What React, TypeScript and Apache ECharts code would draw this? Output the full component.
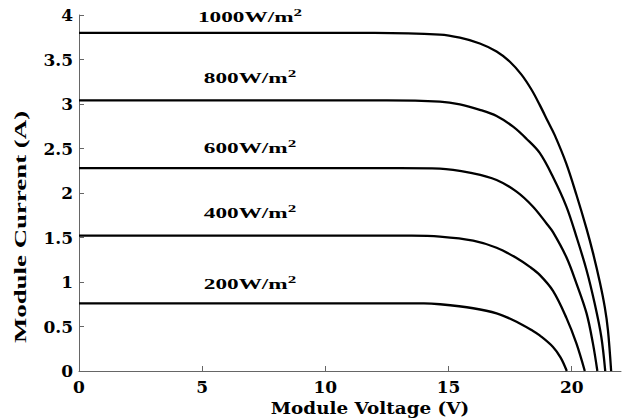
import React, { useEffect, useRef } from 'react';
import * as echarts from 'echarts';

// Module voltage (V) / current (A) for each irradiance level
const v1000 = [0, 12, 14.65, 15.46, 16.27, 16.95, 17.49, 17.96, 18.37, 18.7, 19.04, 19.31, 19.78, 20.19, 20.6, 20.86, 21.14, 21.34, 21.47, 21.6];
const i1000 = [3.8, 3.8, 3.78, 3.745, 3.68, 3.59, 3.475, 3.33, 3.16, 2.99, 2.8, 2.65, 2.33, 1.98, 1.6, 1.33, 1.0, 0.72, 0.46, 0];

const v800 = [0, 12.5, 14.65, 15.46, 16.27, 16.95, 17.62, 18.16, 18.7, 19.24, 19.78, 20.19, 20.6, 20.93, 21.2, 21.36];
const i800 = [3.04, 3.04, 3.026, 2.996, 2.935, 2.865, 2.745, 2.61, 2.45, 2.18, 1.85, 1.51, 1.135, 0.76, 0.385, 0];

const v600 = [0, 13, 14.65, 16.0, 16.95, 17.76, 18.43, 18.97, 19.24, 19.78, 20.19, 20.6, 20.86, 21.04];
const i600 = [2.28, 2.28, 2.275, 2.22, 2.146, 2.015, 1.846, 1.66, 1.56, 1.28, 0.985, 0.65, 0.31, 0];

const v400 = [0, 13.5, 14.65, 16.0, 16.95, 17.76, 18.3, 18.7, 19.24, 19.78, 20.19, 20.53];
const i400 = [1.52, 1.52, 1.51, 1.465, 1.385, 1.27, 1.17, 1.08, 0.9, 0.6, 0.31, 0];

const v200 = [0, 14, 14.65, 16.0, 16.95, 17.76, 18.43, 18.7, 19.24, 19.55, 19.8];
const i200 = [0.76, 0.76, 0.75, 0.705, 0.648, 0.554, 0.45, 0.4, 0.27, 0.15, 0];

const curveLabels = ['1000W/m', '800W/m', '600W/m', '400W/m', '200W/m'];
const xTicks = [0, 5, 10, 15, 20];

const xName = 'Module Voltage (V)';
const yName = 'Module Current (A)';

const zip = (v: number[], c: number[]) => v.map((x, k) => [x, c[k]]);

const curves = [
  zip(v1000, i1000),
  zip(v800, i800),
  zip(v600, i600),
  zip(v400, i400),
  zip(v200, i200),
];

const labelY = [16, 77, 147, 212, 283];

const tickFont = 'DejaVu Serif';
const labelFont = 'Liberation Serif';

export default function App() {
  const ref = useRef<HTMLDivElement>(null);
  useEffect(() => {
    document.body.style.margin = '0';
    const chart = echarts.init(ref.current!, null, { renderer: 'svg' });
    const axisLineStyle = { color: '#666', width: 1 };
    chart.setOption({
      animation: false,
      backgroundColor: '#fff',
      grid: { left: 79, top: 15, right: 4, bottom: 48 },
      xAxis: {
        type: 'value',
        min: 0,
        max: 22,
        interval: 5,
        axisLine: { show: true, lineStyle: axisLineStyle },
        axisTick: { show: true, inside: true, length: 5, lineStyle: axisLineStyle, customValues: xTicks },
        axisLabel: {
          customValues: xTicks,
          margin: 7,
          fontFamily: tickFont,
          fontWeight: 'bold',
          fontSize: 17,
          color: '#000',
        },
        splitLine: { show: false },
      },
      yAxis: {
        type: 'value',
        min: 0,
        max: 4,
        interval: 0.5,
        axisLine: { show: true, lineStyle: axisLineStyle },
        axisTick: { show: true, inside: true, length: 5, lineStyle: axisLineStyle },
        axisLabel: {
          margin: 6,
          fontFamily: tickFont,
          fontWeight: 'bold',
          fontSize: 17,
          color: '#000',
        },
        splitLine: { show: false },
      },
      series: curves.map((d) => ({
        type: 'line',
        data: d,
        showSymbol: false,
        smooth: 0.35,
        lineStyle: { color: '#000', width: 2.3 },
      })),
      graphic: [
        ...curveLabels.map((t, k) => ({
          type: 'text',
          x: 250,
          y: labelY[k],
          scaleX: 1.55,
          style: {
            text: `{a|${t}}{b|2}`,
            align: 'center',
            verticalAlign: 'middle',
            rich: {
              a: {
                fontFamily: labelFont,
                fontWeight: 'bold',
                fontSize: 15,
                lineHeight: 18,
                fill: '#000',
                verticalAlign: 'bottom',
              },
              b: {
                fontFamily: labelFont,
                fontWeight: 'bold',
                fontSize: 11,
                lineHeight: 11,
                fill: '#000',
                verticalAlign: 'top',
              },
            },
          },
        })),
        {
          type: 'text',
          x: 20,
          y: 227,
          rotation: Math.PI / 2,
          scaleX: 1.58,
          style: {
            text: yName,
            font: `bold 17px "${labelFont}"`,
            fill: '#000',
            align: 'center',
            verticalAlign: 'middle',
          },
        },
        {
          type: 'text',
          x: 370,
          y: 408,
          scaleX: 1.08,
          style: {
            text: xName,
            font: `bold 17px "${tickFont}"`,
            fill: '#000',
            align: 'center',
            verticalAlign: 'middle',
          },
        },
      ],
    });
    return () => chart.dispose();
  }, []);
  return <div ref={ref} style={{ position: 'absolute', left: 0, top: 0, width: 625, height: 419 }} />;
}
